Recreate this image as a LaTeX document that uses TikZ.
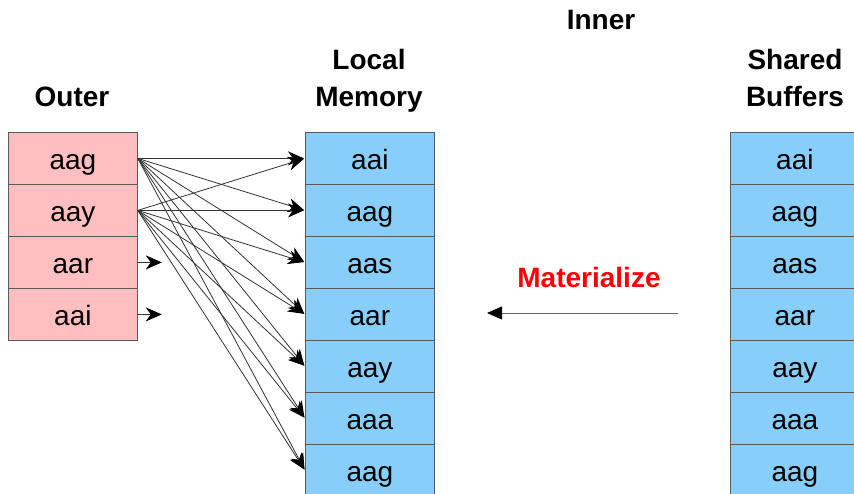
\documentclass[tikz,border=0pt]{standalone}
\usepackage{fontspec}
\setmainfont{Liberation Sans}
\usetikzlibrary{arrows.meta}
\definecolor{pinkc}{RGB}{255,190,192}
\definecolor{bluec}{RGB}{135,206,250}
\definecolor{redc}{RGB}{255,0,0}
\begin{document}
\begin{tikzpicture}[x=1pt,y=-1pt,
 cell/.style={draw=black!65, line width=0.8pt, minimum width=129pt, minimum height=52pt, inner sep=0pt, anchor=north west, text height=23pt, text depth=1pt, font=\fontsize{28}{32}\selectfont},
 outercell/.style={cell, fill=pinkc},
 localcell/.style={cell, fill=bluec},
 title/.style={font=\fontsize{28}{37}\bfseries\selectfont, align=center, inner sep=0pt},
 link/.style={draw=black!80, line width=0.8pt, -{Stealth[length=16pt,width=14pt,inset=5pt,color=black]}, shorten >=1pt}
]
\useasboundingbox (0,0) rectangle (854,494);
\foreach \t [count=\i] in {aag,aay,aar,aai}
  \node[outercell] (o\i) at (8,{132+52*(\i-1)}) {\t};
\foreach \t [count=\i] in {aai,aag,aas,aar,aay,aaa,aag}
  \node[localcell] (l\i) at (305,{132+52*(\i-1)}) {\t};
\foreach \t [count=\i] in {aai,aag,aas,aar,aay,aaa,aag}
  \node[localcell] (b\i) at (730,{132+52*(\i-1)}) {\t};

\node[title] (touter) at (72,97) {Outer};
\node[title] (tlocal) at (369,80.5) {Local\\Memory};
\node[title] (tinner) at (601,20) {Inner};
\node[title] (tshared) at (795,78) {Shared\\Buffers};
\node[font=\fontsize{28}{33}\bfseries\selectfont, text=redc, inner sep=0pt] (tmat) at (589,277) {Materialize};

\foreach \s in {1,2}
  \foreach \j in {1,...,7}
    \draw[link] (o\s.east) -- (l\j.west);
\coordinate (s3) at ([xshift=25pt]o3.east);
\coordinate (s4) at ([xshift=25pt]o4.east);
\draw[link] (o3.east) -- (s3);
\draw[link] (o4.east) -- (s4);

\coordinate (mstart) at (678,313);
\coordinate (mend) at (487,313);
\draw[draw=black!60, line width=0.8pt, -{Triangle[length=15pt,width=13pt,color=black]}] (mstart) -- (mend);
\end{tikzpicture}
\end{document}
